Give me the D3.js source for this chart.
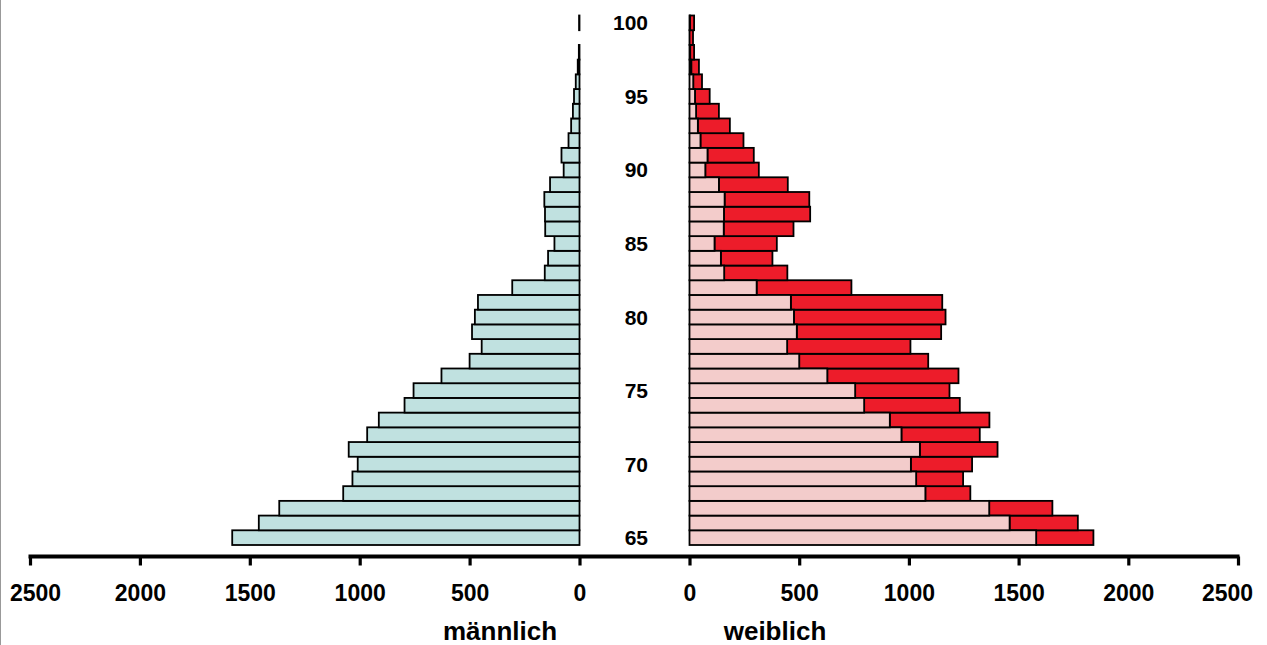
<!DOCTYPE html>
<html>
<head>
<meta charset="utf-8">
<script src="https://cdn.jsdelivr.net/npm/d3@7"></script>
<style>
  html, body { margin: 0; padding: 0; background: #fff; }
  svg { display: block; }
  text { font-family: "Liberation Sans", Arial, sans-serif; font-weight: bold; fill: #000; }
</style>
</head>
<body>
<svg id="chart" width="1267" height="645"></svg>
<script>
// ---- data ----
const ages = [65,66,67,68,69,70,71,72,73,74,75,76,77,78,79,80,81,82,83,84,85,86,87,88,89,90,91,92,93,94,95,96,97,98,99,100];
const male = [1580,1459,1366,1075,1033,1009,1050,966,913,796,755,628,500,445,489,476,462,306,158,143,114,156,157,160,134,72,82,50,38,30,25,17,8,3,0,2];
const femaleTotal = [1841,1770,1654,1280,1247,1288,1404,1323,1367,1232,1185,1226,1088,1007,1147,1167,1152,738,446,378,398,474,550,546,448,316,293,246,184,134,92,57,43,21,16,21];
const ageLabels = [65,70,75,80,85,90,95,100];
const tickValues = [0,500,1000,1500,2000,2500];
const axisTitles = ["männlich", "weiblich"];

// ---- layout ----
const W = 1267, H = 645;
const svg = d3.select("#chart");
const colMale = "#c0e1e0", colPink = "#f3cccb", colRed = "#ed1c2a";

const y = d3.scaleBand().domain(ages.slice().reverse()).range([15.5, 545]).padding(0);
const xL = d3.scaleLinear().domain([0, 2500]).range([579.5, 30]);
const xR = d3.scaleLinear().domain([0, 2500]).range([689.5, 1238]);

const rows = ages.map((a, i) => ({ age: a, m: male[i], f: femaleTotal[i] }));

// left border line
svg.append("line").attr("x1", 0.5).attr("x2", 0.5).attr("y1", 0).attr("y2", H)
  .attr("stroke", "#999").attr("stroke-width", 1);

const barStroke = { stroke: "#000", w: 1.8 };

// male bars
svg.append("g").selectAll("rect").data(rows.filter(d => d.m > 0)).join("rect")
  .attr("x", d => xL(d.m)).attr("width", d => xL(0) - xL(d.m))
  .attr("y", d => y(d.age)).attr("height", y.bandwidth())
  .attr("fill", colMale).attr("stroke", barStroke.stroke).attr("stroke-width", barStroke.w);

// female: pink part (= male count) and red surplus
svg.append("g").selectAll("rect").data(rows.filter(d => d.f > d.m)).join("rect")
  .attr("x", d => xR(d.m)).attr("width", d => xR(d.f) - xR(d.m))
  .attr("y", d => y(d.age)).attr("height", y.bandwidth())
  .attr("fill", colRed).attr("stroke", barStroke.stroke).attr("stroke-width", barStroke.w);
svg.append("g").selectAll("rect").data(rows.filter(d => d.m > 0)).join("rect")
  .attr("x", xR(0)).attr("width", d => xR(d.m) - xR(0))
  .attr("y", d => y(d.age)).attr("height", y.bandwidth())
  .attr("fill", colPink).attr("stroke", barStroke.stroke).attr("stroke-width", barStroke.w);

// age labels
svg.append("g").selectAll("text").data(ageLabels).join("text")
  .attr("x", 648).attr("y", d => y(d) + y.bandwidth() / 2)
  .attr("dy", "0.36em").attr("text-anchor", "end")
  .style("font-size", "21px").text(d => d);

// axes
const axisY = 556.5;
function drawAxis(scale, cls) {
  const g = svg.append("g").attr("class", cls).attr("transform", `translate(0,${axisY})`)
    .call(d3.axisBottom(scale).tickValues(tickValues).tickSize(9).tickFormat(d3.format("d")));
  g.select(".domain").remove();
  g.selectAll(".tick line").attr("stroke", "#000").attr("stroke-width", 3.2);
  g.selectAll(".tick text").attr("y", 44.5).attr("dy", 0)
    .style("font-size", "23px").attr("fill", "#000");
  return g;
}
const gL = drawAxis(xL, "axisL");
const gR = drawAxis(xR, "axisR");
// end labels nudged inward as in the original
gL.selectAll(".tick text").filter(d => d === 2500).attr("x", 5);
gR.selectAll(".tick text").filter(d => d === 2500).attr("x", -11);

svg.append("line").attr("x1", xL(2500) - 1.5).attr("x2", xR(2500) + 1.5)
  .attr("y1", axisY).attr("y2", axisY).attr("stroke", "#000").attr("stroke-width", 4.2);

// axis titles
svg.append("text").attr("x", 500).attr("y", 640).attr("text-anchor", "middle")
  .style("font-size", "26px").text(axisTitles[0]);
svg.append("text").attr("x", 775).attr("y", 640).attr("text-anchor", "middle")
  .style("font-size", "26px").text(axisTitles[1]);
</script>
</body>
</html>
